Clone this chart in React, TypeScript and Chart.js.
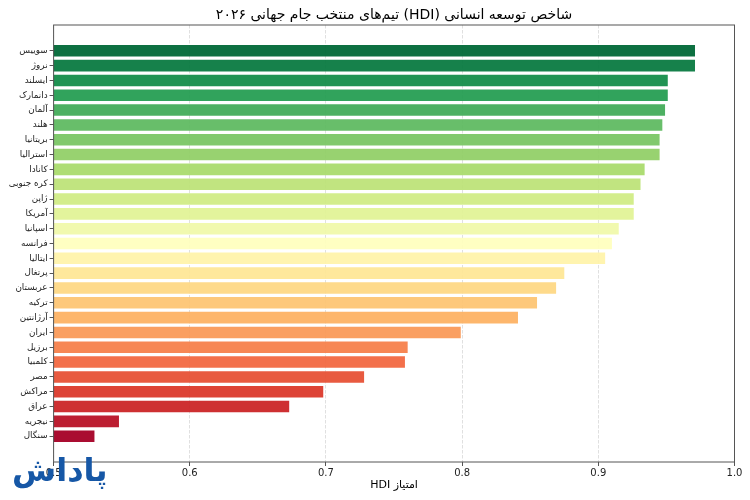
import React, { useEffect, useRef } from "react";
import { Chart, registerables } from "chart.js";

Chart.register(...registerables);

const countries = [
  "سوییس", "نروژ", "ایسلند", "دانمارک", "آلمان", "هلند", "بریتانیا", "استرالیا",
  "کانادا", "کره جنوبی", "ژاپن", "آمریکا", "اسپانیا", "فرانسه", "ایتالیا", "پرتغال",
  "عربستان", "ترکیه", "آرژانتین", "ایران", "برزیل", "کلمبیا", "مصر", "مراکش",
  "عراق", "نیجریه", "سنگال",
];

const hdiValues = [
  0.971, 0.971, 0.951, 0.951, 0.949, 0.947, 0.945, 0.945,
  0.934, 0.931, 0.926, 0.926, 0.915, 0.910, 0.905, 0.875,
  0.869, 0.855, 0.841, 0.799, 0.760, 0.758, 0.728, 0.698,
  0.673, 0.548, 0.530,
];

const xTicks = [0.5, 0.6, 0.7, 0.8, 0.9, 1.0];

const TITLE = "شاخص توسعه انسانی (HDI) تیم‌های منتخب جام جهانی ۲۰۲۶";
const X_TITLE = "امتیاز HDI";
const LOGO = "پاداش";

const rtl = (s: string) => "\u202B" + s + "\u202C";

const RDYLGN = [
  "#a50026", "#d73027", "#f46d43", "#fdae61", "#fee08b", "#ffffbf",
  "#d9ef8b", "#a6d96a", "#66bd63", "#1a9850", "#006837",
];

function hexToRgb(h: string) {
  const n = parseInt(h.slice(1), 16);
  return [(n >> 16) & 255, (n >> 8) & 255, n & 255];
}

function rdylgn(t: number, alpha: number) {
  const pos = Math.max(0, Math.min(1, t)) * (RDYLGN.length - 1);
  const i = Math.min(Math.floor(pos), RDYLGN.length - 2);
  const f = pos - i;
  const a = hexToRgb(RDYLGN[i]);
  const b = hexToRgb(RDYLGN[i + 1]);
  const c = a.map((v, k) => Math.round(v + (b[k] - v) * f));
  return `rgba(${c[0]},${c[1]},${c[2]},${alpha})`;
}

const FONT = "'DejaVu Sans', sans-serif";

export default function App() {
  const ref = useRef<HTMLCanvasElement | null>(null);

  useEffect(() => {
    if (!ref.current) return;
    const n = countries.length;
    const colors = countries.map((_, i) => rdylgn((n - 1 - i) / (n - 1), 0.95));

    const framePlugin = {
      id: "frame",
      afterDraw(chart: any) {
        const { ctx, chartArea } = chart;
        ctx.save();
        ctx.strokeStyle = "#555555";
        ctx.lineWidth = 1;
        ctx.strokeRect(chartArea.left, chartArea.top, chartArea.right - chartArea.left, chartArea.bottom - chartArea.top);
        ctx.restore();
      },
    };

    const chart = new Chart(ref.current, {
      type: "bar",
      data: {
        datasets: [
          {
            data: hdiValues.map((v, i) => ({ x: v, y: i })),
            backgroundColor: colors,
            borderWidth: 0,
            barPercentage: 0.78,
            categoryPercentage: 1,
          },
        ],
      },
      options: {
        indexAxis: "y",
        animation: false,
        responsive: true,
        maintainAspectRatio: false,
        layout: { padding: { left: 0, right: 15.5, top: 0, bottom: 0 } },
        plugins: {
          legend: { display: false },
          tooltip: { enabled: false },
          title: {
            display: true,
            text: rtl(TITLE),
            fullSize: false,
            color: "#000000",
            font: { family: FONT, size: 14, weight: "normal", lineHeight: 1.2 },
            padding: { top: 7, bottom: 1.2 },
          },
        },
        scales: {
          x: {
            type: "linear",
            position: "bottom",
            min: 0.5,
            max: 1.0,
            z: 1,
            offset: false,
            afterBuildTicks: (axis: any) => {
              axis.ticks = xTicks.map((v) => ({ value: v }));
            },
            afterFit: (s: any) => {
              s.height = 38;
            },
            ticks: {
              color: "#222222",
              font: { family: FONT, size: 10 },
              padding: 1,
              maxRotation: 0,
              callback: (v: any) => Number(v).toFixed(1),
            },
            grid: {
              offset: false,
              color: "rgba(190,190,190,0.6)",
              lineWidth: 0.8,
              drawTicks: true,
              tickLength: 4,
              tickColor: "#555555",
              tickWidth: 1,
              tickBorderDash: [],
            },
            border: { display: false, dash: [3.5, 1.5] },
            title: {
              display: true,
              text: rtl(X_TITLE),
              color: "#000000",
              font: { family: FONT, size: 11 },
              padding: { top: 8, bottom: 8 },
            },
          },
          y: {
            type: "linear",
            reverse: true,
            offset: false,
            min: -1.74,
            max: countries.length - 1 + 1.74,
            afterBuildTicks: (axis: any) => {
              axis.ticks = countries.map((_, i) => ({ value: i }));
            },
            afterFit: (s: any) => {
              s.width = 53.6;
            },
            ticks: {
              color: "#222222",
              font: { family: FONT, size: 8.8 },
              padding: 2,
              autoSkip: false,
              callback: (v: any) => rtl(countries[v] ?? ""),
            },
            grid: {
              offset: false,
              drawOnChartArea: false,
              drawTicks: true,
              tickLength: 4,
              tickColor: "#555555",
              tickWidth: 1,
            },
            border: { display: false },
          },
        },
      },
      plugins: [framePlugin],
    } as any);

    return () => chart.destroy();
  }, []);

  return (
    <div style={{ position: "absolute", left: 0, top: 0, width: 750, height: 500, background: "#ffffff" }}>
      <canvas ref={ref} />
      <div
        dir="rtl"
        style={{
          position: "absolute",
          left: 12,
          top: 450,
          fontFamily: FONT,
          fontWeight: "bold",
          fontSize: 32,
          color: "#1657a6",
          lineHeight: "40px",
          whiteSpace: "nowrap",
        }}
      >
        {LOGO}
      </div>
    </div>
  );
}
